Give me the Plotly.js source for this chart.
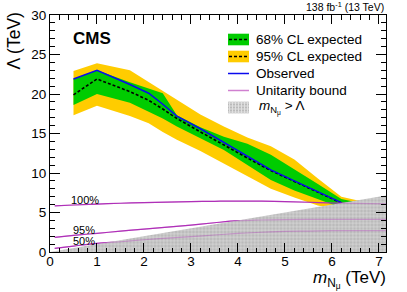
<!DOCTYPE html>
<html>
<head>
<meta charset="utf-8">
<script src="https://cdn.plot.ly/plotly-3.0.1.min.js"></script>
<style>html,body{margin:0;padding:0;background:#fff;}#plot{width:407px;height:292px;}</style>
</head>
<body>
<div id="plot"></div>
<script>
// ---- data ----
const mass      = [0.5, 1.0, 1.7, 2.1, 2.4, 2.7, 3.2, 3.7, 4.2, 4.7, 5.2, 5.7, 6.2, 6.6];
const observed  = [21.9, 23.0, 21.2, 20.1, 18.7, 17.2, 15.6, 13.9, 12.2, 10.4, 9.0, 7.6, 6.25, null];
const expected  = [19.9, 21.9, 20.3, 19.2, 18.1, 16.9, 15.2, 13.5, 11.9, 10.3, 8.9, 7.5, 6.2, null];
const exp68Up   = [21.9, 23.0, 21.5, 20.7, 20.1, 17.3, 15.8, 14.6, 13.7, 12.3, 10.5, 8.6, 6.7, 6.2];
const exp68Lo   = [18.6, 20.0, 18.9, 17.8, 16.9, 15.9, 14.4, 12.9, 11.0, 9.1, 7.8, 6.7, 5.6, 5.6];
const exp95Up   = [22.9, 23.9, 23.0, 21.5, 20.4, 19.3, 17.4, 15.9, 14.5, 13.4, 11.7, 9.3, 7.0, 6.45];
const exp95Lo   = [17.3, 18.5, 17.2, 16.3, 15.2, 14.2, 12.8, 11.2, 9.6, 8.0, 6.9, 5.9, 5.3, 5.3];

const ubMass    = [0.1, 0.5, 1.0, 1.5, 2.0, 2.5, 3.0, 3.5, 4.0, 4.5, 5.0, 5.5, 6.0, 6.5, 7.15];
const ub100     = [5.85, 5.95, 6.07, 6.17, 6.25, 6.32, 6.38, 6.42, 6.45, 6.43, 6.38, 6.3, 6.2, 6.15, 6.1];
const ub95      = [1.86, 2.1, 2.37, 2.63, 2.9, 3.15, 3.4, 3.7, 3.96, 4.05, 4.1, 4.12, 4.13, 4.13, 4.13];
const ub50      = [0.46, 0.75, 1.1, 1.3, 1.55, 1.75, 1.95, 2.15, 2.35, 2.5, 2.6, 2.65, 2.7, 2.7, 2.7];
const ubLabels  = ["100%", "95%", "50%"];
const ubLabelX  = [0.75, 0.72, 0.72];
const ubLabelY  = [6.6, 2.78, 1.39];

const xMax = 7.15;
const excludedX = [0, xMax, xMax, 0];
const excludedY = [0, xMax, 0, 0];

const legendLabels = ["68% CL expected", "95% CL expected", "Observed", "Unitarity bound", "<i>m</i><sub>N<sub>μ</sub></sub> > Λ"];

// ---- colours ----
const GREEN = '#00cc00', YELLOW = '#ffcc00', BLUE = '#0a0aee', PURPLE = '#b030b8';
const FONT = 'Liberation Sans, Arial, Helvetica, sans-serif';

const traces = [
  {x: mass, y: exp95Lo, mode: 'lines', line: {width: 0}, hoverinfo: 'skip', showlegend: false},
  {x: mass, y: exp95Up, mode: 'lines', line: {width: 0}, fill: 'tonexty', fillcolor: YELLOW, showlegend: false},
  {x: mass, y: exp68Lo, mode: 'lines', line: {width: 0}, showlegend: false},
  {x: mass, y: exp68Up, mode: 'lines', line: {width: 0}, fill: 'tonexty', fillcolor: GREEN, showlegend: false},
  {x: mass, y: expected, mode: 'lines', line: {color: '#000', width: 1.6, dash: '3px,2px'}, showlegend: false},
  {x: mass, y: observed, mode: 'lines', line: {color: BLUE, width: 1.5}, showlegend: false},
];
[ub100, ub95, ub50].forEach(u => traces.push({x: ubMass, y: u, mode: 'lines', line: {color: PURPLE, width: 1.2, shape: 'spline'}, showlegend: false}));
traces.push({x: excludedX, y: excludedY, mode: 'lines', line: {width: 0}, fill: 'toself',
  fillcolor: '#c4c4c4',
  fillpattern: {shape: '+', bgcolor: '#bababa', fgcolor: '#e0e0e0', size: 3.5, solidity: 0.3},
  showlegend: false});
[ub100, ub95, ub50].forEach(u => traces.push({x: ubMass, y: u, mode: 'lines', opacity: 0.35, line: {color: PURPLE, width: 1.2, shape: 'spline'}, showlegend: false}));

// pixel -> paper helpers for the plot frame (50..386 x 15..252)
const L = 50, R = 386, T = 15, B = 252;
const px = v => (v - L) / (R - L);
const py = v => (B - v) / (B - T);

const shapes = [];
const annotations = [];
const legY = [39.5, 56.5, 73.5, 90.5, 107.5];
const bx0 = 228, bx1 = 249;
[[GREEN, 0], [YELLOW, 1]].forEach(([c, i]) => {
  shapes.push({type: 'rect', xref: 'paper', yref: 'paper', x0: px(bx0), x1: px(bx1), y0: py(legY[i] - 5.8), y1: py(legY[i] + 5.8), fillcolor: c, line: {width: 0}});
  shapes.push({type: 'line', xref: 'paper', yref: 'paper', x0: px(bx0 + 1), x1: px(bx1 - 1), y0: py(legY[i]), y1: py(legY[i]), line: {color: '#000', width: 1.5, dash: '3px,2px'}});
});
shapes.push({type: 'line', xref: 'paper', yref: 'paper', x0: px(bx0), x1: px(bx1), y0: py(legY[2]), y1: py(legY[2]), line: {color: BLUE, width: 1.5}});
shapes.push({type: 'line', xref: 'paper', yref: 'paper', x0: px(bx0), x1: px(bx1), y0: py(legY[3]), y1: py(legY[3]), line: {color: '#d080d0', width: 1.5}});
shapes.push({type: 'rect', xref: 'paper', yref: 'paper', x0: px(bx0), x1: px(bx1), y0: py(legY[4] - 5.8), y1: py(legY[4] + 5.8), fillcolor: '#bababa', line: {width: 0}});
let grid = '';
for (let gx = bx0 + 1.5; gx < bx1; gx += 3) grid += `M${px(gx)},${py(legY[4] - 5.8)} L${px(gx)},${py(legY[4] + 5.8)} `;
for (let gy = legY[4] - 4.5; gy < legY[4] + 5.8; gy += 3) grid += `M${px(bx0)},${py(gy)} L${px(bx1)},${py(gy)} `;
shapes.push({type: 'path', xref: 'paper', yref: 'paper', path: grid, line: {color: '#e0e0e0', width: 1}});

legendLabels.forEach((t, i) => annotations.push({xref: 'paper', yref: 'paper', x: px(i === 4 ? 257 : 254), y: py(legY[i]), xanchor: 'left', yanchor: 'middle', text: t, showarrow: false, font: {size: 13.5, color: '#000', family: FONT}}));

ubLabels.forEach((t, i) => annotations.push({x: ubLabelX[i], y: ubLabelY[i], xref: 'x', yref: 'y', text: t, showarrow: false, font: {size: 11, color: '#000', family: FONT}}));

annotations.push({xref: 'paper', yref: 'paper', x: px(71), y: py(38), xanchor: 'left', yanchor: 'middle', text: '<b>CMS</b>', showarrow: false, font: {size: 17, color: '#000', family: FONT}});
annotations.push({xref: 'paper', yref: 'paper', x: px(386), y: py(7), xanchor: 'right', yanchor: 'middle', text: '138 fb<sup>-1</sup> (13 TeV)', showarrow: false, font: {size: 10.5, color: '#000', family: FONT}});
annotations.push({xref: 'paper', yref: 'paper', x: px(388), y: py(279.5), xanchor: 'right', yanchor: 'middle', text: '<i>m</i><sub>N<sub>μ</sub></sub> (TeV)', showarrow: false, font: {size: 17, color: '#000', family: FONT}});
annotations.push({xref: 'paper', yref: 'paper', x: px(13), y: py(11), xanchor: 'center', yanchor: 'top', textangle: -90, text: 'Λ (TeV)', showarrow: false, font: {size: 17.5, color: '#000', family: FONT}});

const axisCommon = {
  showline: true, mirror: 'ticks', linecolor: '#000', linewidth: 1,
  ticks: 'inside', tickcolor: '#000', tickwidth: 1,
  showgrid: false, zeroline: false,
  tickfont: {size: 13.5, color: '#000', family: FONT},
};

const layout = {
  width: 407, height: 292,
  margin: {l: L, r: 407 - R, t: T, b: 292 - B},
  paper_bgcolor: '#fff', plot_bgcolor: '#fff',
  font: {family: FONT, color: '#000'},
  showlegend: false,
  xaxis: Object.assign({}, axisCommon, {range: [0, xMax], dtick: 1, tick0: 0, ticklen: 9, ticklabelstandoff: -3,
    minor: {dtick: 0.2, ticks: 'inside', ticklen: 4.5, tickcolor: '#000', showgrid: false}}),
  yaxis: Object.assign({}, axisCommon, {range: [0, 30], dtick: 5, tick0: 0, ticklen: 10,
    minor: {dtick: 1, ticks: 'inside', ticklen: 5, tickcolor: '#000', showgrid: false}}),
  shapes: shapes,
  annotations: annotations,
};

Plotly.newPlot('plot', traces, layout, {displayModeBar: false, staticPlot: true});
</script>
</body>
</html>
